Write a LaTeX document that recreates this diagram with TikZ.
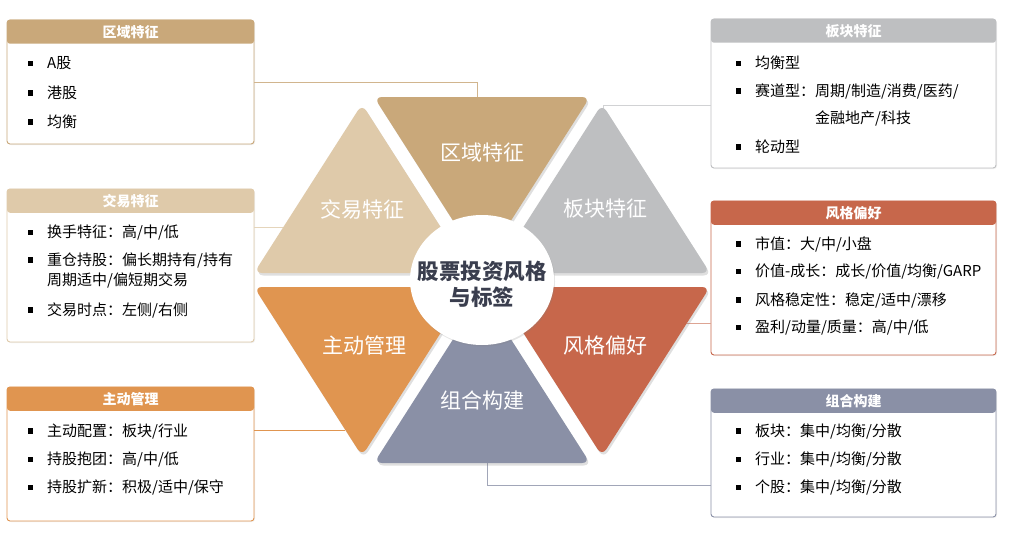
\documentclass[tikz,border=0pt]{standalone}
\usepackage{fontspec}
\setmainfont{Noto Sans CJK SC}
\usetikzlibrary{shapes.geometric, shadows, positioning}
\definecolor{region}{RGB}{201,168,122}
\definecolor{sector}{RGB}{190,191,193}
\definecolor{pref}{RGB}{199,103,75}
\definecolor{build}{RGB}{138,144,166}
\definecolor{active}{RGB}{224,149,80}
\definecolor{trade}{RGB}{223,202,170}
\definecolor{ink}{RGB}{58,62,78}
\newcommand{\sqb}{\llap{\rule[2.5pt]{5.5pt}{5.5pt}\hspace{14pt}}}

\begin{document}
\begin{tikzpicture}[x=1pt, y=-1pt,
    tri/.style={fill=#1, rounded corners=8pt, drop shadow={shadow xshift=1.5pt, shadow yshift=-2.5pt, opacity=0.25}},
    trilabel/.style={text=white, font=\fontsize{21}{21}\selectfont},
    hub/.style={ellipse, fill=white, minimum width=144pt, minimum height=130pt, inner sep=0pt, drop shadow={shadow xshift=1pt, shadow yshift=-1.5pt, opacity=0.2}},
    hubtext/.style={align=center, text=ink, inner sep=0pt, font=\bfseries\fontsize{21.5}{26}\selectfont},
    panel/.style={draw=#1, line width=0.9pt, rounded corners=3pt, fill=white, inner sep=0pt, drop shadow={shadow xshift=1pt, shadow yshift=-1pt, opacity=0.12}},
    head/.style={fill=#1, text=white, rounded corners=3pt, minimum height=24pt, inner sep=0pt, font=\bfseries\fontsize{14}{14}\selectfont},
    item/.style={anchor=west, inner sep=0pt, align=left, text=black, font=\fontsize{15}{20}\selectfont},
    link/.style={draw=#1, line width=0.8pt}
]
\useasboundingbox[fill=white] (0,0) rectangle (1014,535);

% left column
\node[panel=region, minimum width=247pt, minimum height=124pt] (regionbox) at (130.5,82) {};
\node[head=region, minimum width=247pt, anchor=north] (regionhead) at (regionbox.north) {区域特征};
\node[item] (r1) at (47,63.5) {\sqb A股};
\node[item] (r2) at (47,92.5) {\sqb 港股};
\node[item] (r3) at (47,121.5) {\sqb 均衡};

\node[panel=trade, minimum width=247pt, minimum height=153pt] (tradebox) at (130.5,265.5) {};
\node[head=trade, minimum width=247pt, anchor=north] (tradehead) at (tradebox.north) {交易特征};
\node[item] (t1) at (47,233) {\sqb 换手特征：高/中/低};
\node[item] (t2) at (47,270.5) {\sqb 重仓持股：偏长期持有/持有\\周期适中/偏短期交易};
\node[item] (t3) at (47,310) {\sqb 交易时点：左侧/右侧};

\node[panel=active, minimum width=247pt, minimum height=134pt] (activebox) at (130.5,454) {};
\node[head=active, minimum width=247pt, anchor=north] (activehead) at (activebox.north) {主动管理};
\node[item] (a1) at (47,431.5) {\sqb 主动配置：板块/行业};
\node[item] (a2) at (47,460) {\sqb 持股抱团：高/中/低};
\node[item] (a3) at (47,487.5) {\sqb 持股扩新：积极/适中/保守};

% right column
\node[panel=sector, minimum width=285pt, minimum height=149pt] (sectorbox) at (853.5,93.5) {};
\node[head=sector, minimum width=285pt, anchor=north] (sectorhead) at (sectorbox.north) {板块特征};
\node[item] (s1) at (755,63) {\sqb 均衡型};
\node[item] (s2) at (755,91) {\sqb 赛道型：周期/制造/消费/医药/};
\node[item] (s2b) at (815,118.5) {金融地产/科技};
\node[item] (s3) at (755,146.5) {\sqb 轮动型};

\node[panel=pref, minimum width=285pt, minimum height=154pt] (prefbox) at (853.5,278) {};
\node[head=pref, minimum width=285pt, anchor=north] (prefhead) at (prefbox.north) {风格偏好};
\node[item] (p1) at (755,244) {\sqb 市值：大/中/小盘};
\node[item] (p2) at (755,272) {\sqb 价值-成长：成长/价值/均衡/GARP};
\node[item] (p3) at (755,300) {\sqb 风格稳定性：稳定/适中/漂移};
\node[item] (p4) at (755,328) {\sqb 盈利/动量/质量：高/中/低};

\node[panel=build, minimum width=285pt, minimum height=128pt] (buildbox) at (853.5,453) {};
\node[head=build, minimum width=285pt, anchor=north] (buildhead) at (buildbox.north) {组合构建};
\node[item] (b1) at (755,431.5) {\sqb 板块：集中/均衡/分散};
\node[item] (b2) at (755,460) {\sqb 行业：集中/均衡/分散};
\node[item] (b3) at (755,488) {\sqb 个股：集中/均衡/分散};

% connectors
\coordinate (regionE) at (477,98);
\coordinate (sectorE) at (603,112);
\coordinate (tradeE) at (283,227);
\coordinate (prefE) at (687,323);
\coordinate (activeE) at (345,430);
\coordinate (buildE) at (487,462);
\draw[link=region!85] (regionbox.east) -| (regionE);
\draw[link=sector!70] ([yshift=-11.5pt]sectorbox.west) -| (sectorE);
\draw[link=trade!80] ([yshift=38.5pt]tradebox.east) -- (tradeE);
\draw[link=pref!60] ([yshift=-45pt]prefbox.west) -- (prefE);
\draw[link=active] ([yshift=24pt]activebox.east) -- (activeE);
\draw[link=build!80] ([yshift=-32pt]buildbox.west) -| (buildE);

% hexagon of triangles
\fill[tri=region] (374,97) -- (590,97) -- (482,266) -- cycle;
\fill[tri=sector] (494,273) -- (602,104) -- (710,273) -- cycle;
\fill[tri=pref] (494,287) -- (710,287) -- (602,456) -- cycle;
\fill[tri=build] (482,294) -- (590,463) -- (374,463) -- cycle;
\fill[tri=active] (470,287) -- (362,456) -- (254,287) -- cycle;
\fill[tri=trade] (470,273) -- (254,273) -- (362,104) -- cycle;

\node[trilabel] (regionL) at (482,153) {区域特征};
\node[trilabel] (sectorL) at (605,209) {板块特征};
\node[trilabel] (prefL) at (605,345) {风格偏好};
\node[trilabel] (buildL) at (482,400) {组合构建};
\node[trilabel] (activeL) at (364,345) {主动管理};
\node[trilabel] (tradeL) at (362,209) {交易特征};

\node[hub] (hubnode) at (482,280) {};
\node[hubtext] (hubtitle) at (482,284) {股票投资风格\\与标签};
\end{tikzpicture}
\end{document}
